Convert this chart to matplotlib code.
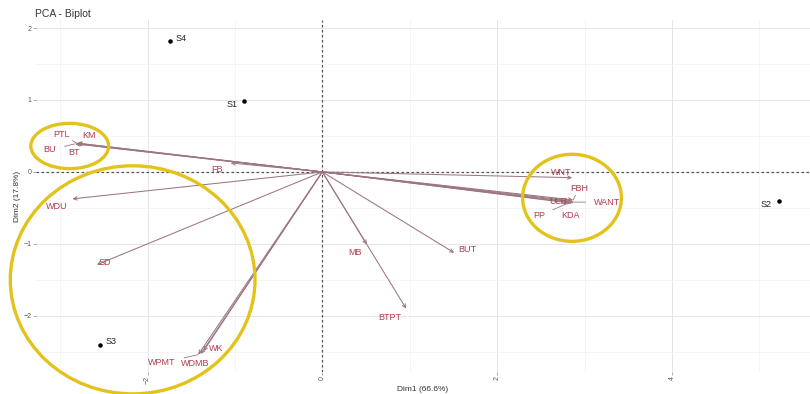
import matplotlib.pyplot as plt
from matplotlib.patches import Ellipse
from matplotlib.ticker import MultipleLocator

plt.rcParams['font.family'] = ['Liberation Sans', 'DejaVu Sans']

# Individuals (scores)
ind_names = ['S1', 'S2', 'S3', 'S4']
ind_dim1 = [-0.90, 5.22, -2.54, -1.74]
ind_dim2 = [0.99, -0.40, -2.40, 1.82]

# Variables (loadings)
var_names = ['PTL', 'KM', 'BU', 'BT', 'FB', 'WDU', 'SD', 'WK', 'WDMB', 'WPMT',
             'MB', 'BTPT', 'BUT', 'WNT', 'FBH', 'WANT', 'ULB', 'PP', 'KDA']
var_dim1 = [-2.81, -2.80, -2.83, -2.81, -1.05, -2.86, -2.58, -1.36, -1.39, -1.42,
            0.51, 0.96, 1.51, 2.86, 2.87, 2.88, 2.83, 2.82, 2.86]
var_dim2 = [0.40, 0.40, 0.39, 0.39, 0.125, -0.375, -1.29, -2.49, -2.53, -2.54,
            -1.01, -1.90, -1.125, -0.08, -0.39, -0.42, -0.40, -0.43, -0.43]

# label offsets (points) and whether a connector segment is drawn
label_off = {
    'PTL': (-11, 6.5, True), 'KM': (8, 5.5, False), 'BU': (-18, -4.3, True),
    'BT': (-2, -6.5, False), 'FB': (-9.4, -5, False), 'WDU': (-11.5, -5.8, False),
    'SD': (5.8, 1.4, False), 'WK': (9.4, 2.2, False), 'WDMB': (-4, -7.2, False),
    'WPMT': (-26, -5.8, True), 'MB': (-8.6, -5.8, False), 'BTPT': (-11.5, -6.5, False),
    'BUT': (9.4, 2.2, False), 'WNT': (-8, 3.6, False), 'FBH': (4.3, 8.6, True),
    'WANT': (23.7, 0, True), 'ULB': (-8.6, -0.7, False), 'PP': (-21.6, -9.4, True),
    'KDA': (-1.4, -9.4, True),
}

var_line = '#9c7680'
var_text = '#b13a4c'

fig = plt.figure(figsize=(8.1, 3.94), dpi=100)
ax = fig.add_axes([0.044, 0.056, 0.956, 0.893])
ax.set_xlim(-3.28, 5.58)
ax.set_ylim(-2.78, 2.11)

# grid like theme_minimal
ax.xaxis.set_major_locator(MultipleLocator(2))
ax.xaxis.set_minor_locator(MultipleLocator(1))
ax.yaxis.set_major_locator(MultipleLocator(1))
ax.yaxis.set_minor_locator(MultipleLocator(0.5))
ax.grid(which='major', color='#e6e6e6', lw=0.7)
ax.grid(which='minor', color='#f2f2f2', lw=0.5)
ax.set_axisbelow(True)
for s in ax.spines.values():
    s.set_visible(False)
ax.tick_params(which='major', length=2, width=0.5, color='#888888',
               labelsize=5, labelcolor='#555555', pad=1)
ax.tick_params(axis='x', labelrotation=90)
ax.tick_params(which='minor', length=0)

ax.axhline(0, color='#555555', lw=0.9, ls=(0, (2, 2)), zorder=1)
ax.axvline(0, color='#555555', lw=0.9, ls=(0, (2, 2)), zorder=1)

# variable arrows
for name, x, y in zip(var_names, var_dim1, var_dim2):
    ax.annotate('', xy=(x, y), xytext=(0, 0),
                arrowprops=dict(arrowstyle='->,head_length=0.25,head_width=0.12',
                                color=var_line, lw=0.75, shrinkA=0, shrinkB=0),
                zorder=2)
    dx, dy, seg = label_off[name]
    ax.annotate(name, xy=(x, y), xytext=(dx, dy), textcoords='offset points',
                ha='center', va='center', fontsize=6.5, color=var_text,
                arrowprops=dict(arrowstyle='-', color=var_line, lw=0.6,
                                shrinkA=4, shrinkB=0) if seg else None,
                zorder=3)

# individuals
ax.scatter(ind_dim1, ind_dim2, s=5, color='black', zorder=4)
ind_off = {'S1': (-8, -3), 'S2': (-9, -3), 'S3': (8, 2), 'S4': (8, 2)}
for name, x, y in zip(ind_names, ind_dim1, ind_dim2):
    ax.annotate(name, xy=(x, y), xytext=ind_off[name], textcoords='offset points',
                ha='center', va='center', fontsize=6.5, color='#222222', zorder=4)

# highlighted groups
groups = [((-2.89, 0.36), 0.89, 0.63), ((-2.17, -1.5), 2.8, 3.17),
          ((2.857, -0.36), 1.13, 1.21)]
for c, w, h in groups:
    ax.add_patch(Ellipse(c, w, h, fill=False, ec='#e3c21c', lw=2.4,
                         clip_on=False, zorder=5))

ax.set_xlabel('Dim1 (66.6%)', fontsize=6, color='#333333', labelpad=1)
ax.set_ylabel('Dim2 (17.8%)', fontsize=6, color='#333333', labelpad=2)
fig.text(0.043, 0.965, 'PCA - Biplot', fontsize=7.5, color='#333333',
         ha='left', va='center')

fig.savefig('out.png', dpi=100)
